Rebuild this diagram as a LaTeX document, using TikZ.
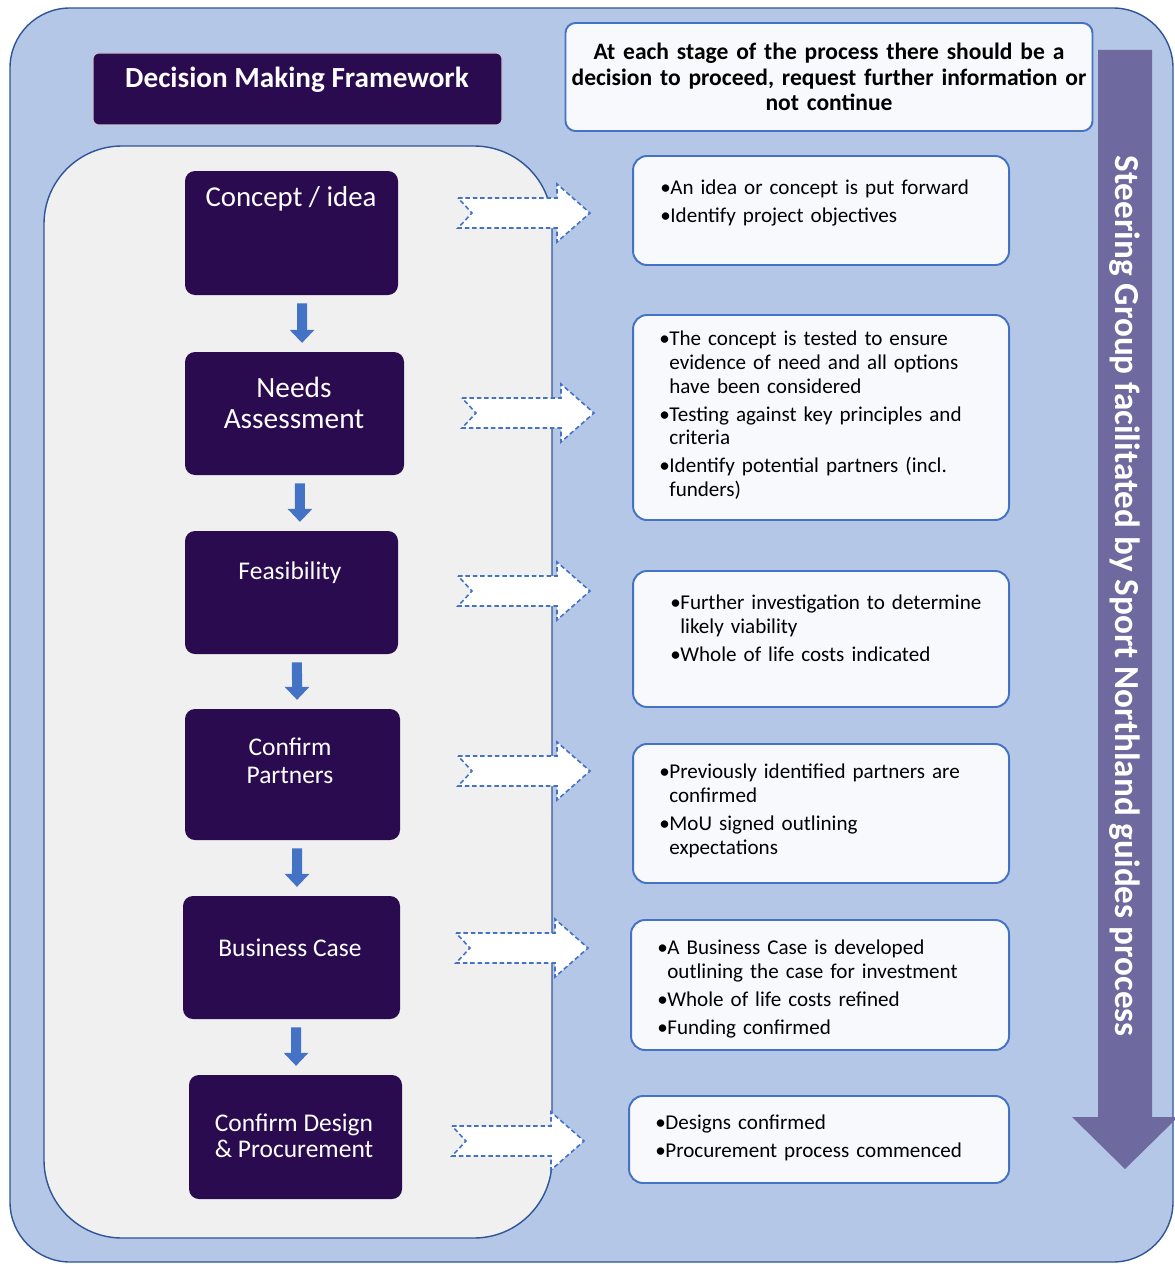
\documentclass[tikz,border=0pt]{standalone}
\usepackage{fontspec}
\setmainfont{Carlito}
\usepackage{tikz}
\usetikzlibrary{arrows.meta}
\definecolor{panelblue}{RGB}{180,199,231}
\definecolor{panelgray}{RGB}{240,240,240}
\definecolor{edgeblue}{RGB}{47,85,151}
\definecolor{boxblue}{RGB}{68,114,196}
\definecolor{darkplum}{RGB}{43,11,79}
\definecolor{steerpurple}{RGB}{110,105,158}
\definecolor{paper}{RGB}{248,249,253}
\newlength\pxu
\setlength\pxu{0.02cm}
\newcommand{\bul}[1]{\par\hangindent=10\pxu\hangafter=1\noindent\makebox[10\pxu][l]{\textbullet}#1\par}

\begin{document}
\begin{tikzpicture}[x=0.02cm, y=-0.02cm,
    stage/.style={fill=darkplum, rounded corners=10\pxu},
    stagetext/.style={text=white, align=center, font=\fontsize{14.5}{16}\selectfont},
    infobox/.style={draw=boxblue, line width=1.1pt, fill=paper, rounded corners=14\pxu,
      anchor=east, minimum width=376\pxu},
    infotext/.style={anchor=north west, inner sep=0pt, text width=336\pxu, align=left,
      font=\fontsize{12}{13.6}\selectfont\setlength\parskip{2.3pt}},
    downarr/.style={draw=boxblue, line width=5.7pt, shorten <=4.5pt, shorten >=5pt,
      -{Triangle[width=13.6pt, length=7.4pt]}},
    hollowarr/.pic={
      \draw[draw=boxblue, fill=white, line width=0.9pt, dash pattern=on 2.6pt off 1.6pt]
        (0,-15) -- (99,-15) -- (99,-29) -- (132,0) -- (99,29) -- (99,15) -- (0,15) -- (14,0) -- cycle;}
  ]
\useasboundingbox (0,0) rectangle (1175,1264);

% background panels
\draw[edgeblue, fill=panelblue, line width=0.8pt, rounded corners=60\pxu] (10,8) rectangle (1173,1262);
\draw[edgeblue, fill=panelgray, line width=0.8pt, rounded corners=78\pxu] (44,146) rectangle (552,1238);

% steering arrow
\fill[steerpurple] (1098,50) -- (1152,50) -- (1152,1117) -- (1178,1117) -- (1125,1169)
  -- (1072,1117) -- (1098,1117) -- cycle;
\node[text=white, rotate=-90, font=\bfseries\fontsize{20}{24}\selectfont] (steer) at (1125,596)
  {Steering Group facilitated by Sport Northland guides process};

% headings
\node[fill=darkplum, draw=white!75!darkplum, line width=0.6pt, rounded corners=6\pxu,
  minimum width=409\pxu, minimum height=72\pxu] (title) at (297.5,89) {};
\node[text=white, font=\bfseries\fontsize{16.6}{19}\selectfont] (titlelbl) at (297,80) {Decision Making Framework};
\node[draw=boxblue, line width=1.1pt, fill=paper, rounded corners=10\pxu, minimum width=524\pxu,
  minimum height=108\pxu, text width=520\pxu, inner xsep=2pt, align=center,
  font=\bfseries\fontsize{13.4}{14.7}\selectfont] (note) at (829,77)
  {At each stage of the process there should be a\\ decision to proceed, request further information or\\ not continue};

% stages
\node[stage, minimum width=213\pxu, minimum height=124\pxu] (concept) at (291.5,233) {};
\node[stagetext, font=\fontsize{16.4}{19}\selectfont] (conceptlbl) at (291,199) {Concept / idea};
\node[stage, minimum width=219\pxu, minimum height=123\pxu] (needs) at (294.5,413.5) {};
\node[stagetext, font=\fontsize{16.7}{18}\selectfont] (needslbl) at (294,403) {Needs\\Assessment};
\node[stage, minimum width=213\pxu, minimum height=123\pxu] (feas) at (291.5,592.5) {};
\node[stagetext] (feaslbl) at (290,573) {Feasibility};
\node[stage, minimum width=215\pxu, minimum height=131\pxu] (partners) at (292.5,774.5) {};
\node[stagetext] (partnerslbl) at (290,761) {Confirm\\Partners};
\node[stage, minimum width=217\pxu, minimum height=123\pxu] (bcase) at (291.5,957.5) {};
\node[stagetext] (bcaselbl) at (290,948) {Business Case};
\node[stage, minimum width=213\pxu, minimum height=124\pxu] (design) at (295.5,1137) {};
\node[stagetext, font=\fontsize{14.5}{14.8}\selectfont] (designlbl) at (294,1136) {Confirm Design\\\& Procurement};

% flow between stages
\draw[downarr] ([xshift=6pt]concept.south) -- ([xshift=4.3pt]needs.north);
\draw[downarr] ([xshift=3.1pt]needs.south) -- ([xshift=4.8pt]feas.north);
\draw[downarr] ([xshift=3.1pt]feas.south) -- ([xshift=2.6pt]partners.north);
\draw[downarr] ([xshift=2.6pt]partners.south) -- ([xshift=3.1pt]bcase.north);
\draw[downarr] ([xshift=2.6pt]bcase.south) -- ([xshift=0.3pt]design.north);

% hollow arrows
\pic at (458,213) {hollowarr};
\pic at (462,413) {hollowarr};
\pic at (458,591) {hollowarr};
\pic at (458,771) {hollowarr};
\pic at (456,948) {hollowarr};
\pic at (452,1141) {hollowarr};

% descriptions
\node[infobox, minimum height=109\pxu] (conceptinfo) at (1010,210.5) {};
\node[infotext] (conceptnote) at (660,166)
  {\bul{An idea or concept is put forward}\bul{Identify project objectives}};
\node[infobox, minimum height=205\pxu] (needsinfo) at (1010,417.5) {};
\node[infotext] (needsnote) at (659,317)
  {\bul{The concept is tested to ensure\newline evidence of need and all options\newline have been considered}%
   \bul{Testing against key principles and\newline criteria}%
   \bul{Identify potential partners (incl.\newline funders)}};
\node[infobox, minimum height=136\pxu] (feasinfo) at (1010,639) {};
\node[infotext] (feasnote) at (670,581)
  {\bul{Further investigation to determine\newline likely viability}\bul{Whole of life costs indicated}};
\node[infobox, minimum height=139\pxu] (partnersinfo) at (1010,813.5) {};
\node[infotext] (partnersnote) at (659,750)
  {\bul{Previously identified partners are\newline confirmed}\bul{MoU signed outlining\newline expectations}};
\node[infobox, minimum height=130\pxu, minimum width=378\pxu] (bcaseinfo) at (1010,985) {};
\node[infotext] (bcasenote) at (657,926)
  {\bul{A Business Case is developed\newline outlining the case for investment}%
   \bul{Whole of life costs refined}\bul{Funding confirmed}};
\node[infobox, minimum height=87\pxu, minimum width=380\pxu] (designinfo) at (1010,1139.5) {};
\node[infotext] (designnote) at (655,1101)
  {\bul{Designs confirmed}\bul{Procurement process commenced}};
\end{tikzpicture}
\end{document}
